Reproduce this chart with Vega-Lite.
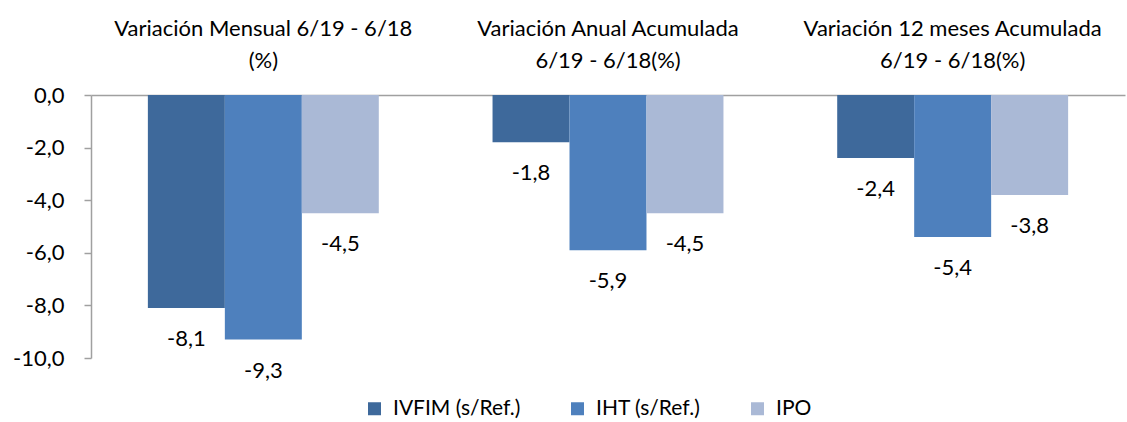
{
  "$schema": "https://vega.github.io/schema/vega-lite/v6.json",
  "width": 1034,
  "height": 263,
  "autosize": {"type": "none"},
  "padding": {"left": 91, "top": 95, "right": 2, "bottom": 64},
  "background": "white",
  "config": {
    "view": {"stroke": null},
    "font": "Lato",
    "text": {"font": "Lato"},
    "locale": {
      "number": {"decimal": ",", "thousands": ".", "grouping": [3], "currency": ["", " €"], "minus": "-"}
    }
  },
  "data": {
    "values": [
      {"cat": "Variación Mensual 6/19 - 6/18|(%)", "series": "IVFIM (s/Ref.)", "value": -8.1},
      {"cat": "Variación Mensual 6/19 - 6/18|(%)", "series": "IHT (s/Ref.)", "value": -9.3},
      {"cat": "Variación Mensual 6/19 - 6/18|(%)", "series": "IPO", "value": -4.5},
      {"cat": "Variación Anual Acumulada|6/19 - 6/18(%)", "series": "IVFIM (s/Ref.)", "value": -1.8},
      {"cat": "Variación Anual Acumulada|6/19 - 6/18(%)", "series": "IHT (s/Ref.)", "value": -5.9},
      {"cat": "Variación Anual Acumulada|6/19 - 6/18(%)", "series": "IPO", "value": -4.5},
      {"cat": "Variación 12 meses Acumulada|6/19 - 6/18(%)", "series": "IVFIM (s/Ref.)", "value": -2.4},
      {"cat": "Variación 12 meses Acumulada|6/19 - 6/18(%)", "series": "IHT (s/Ref.)", "value": -5.4},
      {"cat": "Variación 12 meses Acumulada|6/19 - 6/18(%)", "series": "IPO", "value": -3.8}
    ]
  },
  "encoding": {
    "x": {
      "field": "cat",
      "type": "nominal",
      "sort": null,
      "scale": {"paddingInner": 0.33, "paddingOuter": 0.165},
      "axis": {
        "orient": "top",
        "title": null,
        "labelAngle": 0,
        "ticks": false,
        "domain": true,
        "domainColor": "#A0A0A0",
        "domainWidth": 1.5,
        "labelExpr": "split(datum.label, '|')",
        "labelFontSize": 22,
        "labelLineHeight": 32,
        "labelColor": "#000000",
        "labelPadding": 55,
        "labelLimit": 0
      }
    },
    "xOffset": {
      "field": "series",
      "type": "nominal",
      "sort": ["IVFIM (s/Ref.)", "IHT (s/Ref.)", "IPO"],
      "scale": {"paddingInner": 0, "paddingOuter": 0}
    },
    "y": {
      "field": "value",
      "type": "quantitative",
      "scale": {"domain": [-10, 0], "nice": false},
      "axis": {
        "title": null,
        "grid": false,
        "values": [-10, -8, -6, -4, -2, 0],
        "format": ".1f",
        "labelFontSize": 22,
        "labelColor": "#000000",
        "labelPadding": 20,
        "tickSize": 7,
        "tickColor": "#A0A0A0",
        "domainColor": "#A0A0A0",
        "domainWidth": 1.5,
        "tickWidth": 1.5
      }
    }
  },
  "layer": [
    {
      "mark": {"type": "bar"},
      "encoding": {
        "color": {
          "field": "series",
          "type": "nominal",
          "sort": ["IVFIM (s/Ref.)", "IHT (s/Ref.)", "IPO"],
          "scale": {
            "domain": ["IVFIM (s/Ref.)", "IHT (s/Ref.)", "IPO"],
            "range": ["#3E699B", "#4E80BD", "#AAB9D6"]
          },
          "legend": {
            "title": null,
            "orient": "none",
            "direction": "horizontal",
            "legendX": 273,
            "legendY": 303,
            "symbolType": "square",
            "symbolSize": 169,
            "symbolStrokeWidth": 0,
            "symbolOpacity": 1,
            "labelFontSize": 21,
            "labelColor": "#000000",
            "labelOffset": 8,
            "columnPadding": 46,
            "labelLimit": 0
          }
        }
      }
    },
    {
      "mark": {"type": "text", "baseline": "middle", "align": "center", "dy": 31, "fontSize": 22, "color": "#000000"},
      "encoding": {
        "text": {"field": "value", "type": "quantitative", "format": ".1f"}
      }
    }
  ]
}
